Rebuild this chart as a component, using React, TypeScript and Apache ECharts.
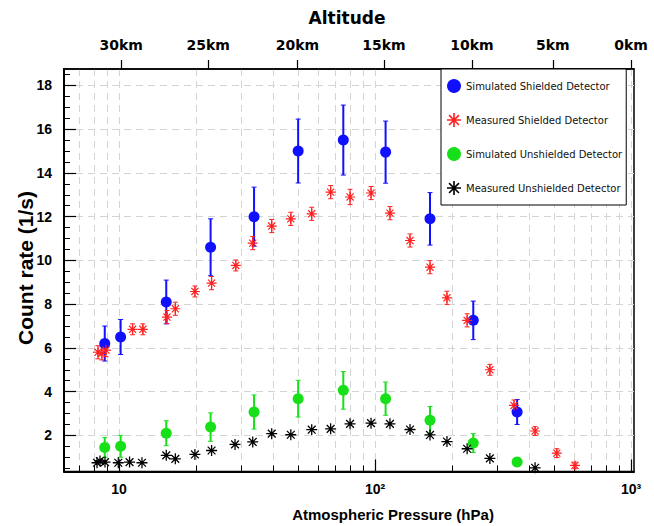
import React, { useEffect, useRef } from "react";
import * as echarts from "echarts";

// ---------- data ----------
const simPressure = [8.8, 10.15, 15.3, 22.8, 33.7, 50.1, 75.2, 110, 164, 242, 359];
const simShielded = [6.2, 6.5, 8.1, 10.6, 12.0, 15.0, 15.5, 14.95, 11.9, 7.26, 3.07];
const simShieldedErr = [0.8, 0.8, 1.0, 1.3, 1.35, 1.46, 1.6, 1.42, 1.2, 0.88, 0.57];
const simUnshielded = [1.45, 1.5, 2.1, 2.38, 3.07, 3.68, 4.06, 3.68, 2.69, 1.65, 0.78];
const simUnshieldedErr = [0.45, 0.5, 0.57, 0.65, 0.78, 0.84, 0.86, 0.76, 0.63, 0.43, 0.2];

const measShPressure = [8.28, 8.58, 8.9, 11.3, 12.4, 15.4, 16.6, 19.8, 23.0, 28.6, 33.3, 39.5, 46.9, 56.6, 67.1, 79.9, 96.5, 114.4, 137, 164, 191, 229, 281, 349, 422, 513, 604];
const measShielded = [5.8, 5.75, 5.9, 6.85, 6.85, 7.41, 7.79, 8.58, 8.96, 9.77, 10.79, 11.57, 11.9, 12.13, 13.12, 12.9, 13.08, 12.16, 10.91, 9.69, 8.29, 7.26, 5.0, 3.37, 2.2, 1.19, 0.63];
const measShieldedErr = [0.3, 0.3, 0.3, 0.25, 0.25, 0.3, 0.3, 0.25, 0.3, 0.25, 0.3, 0.3, 0.3, 0.3, 0.3, 0.35, 0.3, 0.3, 0.3, 0.3, 0.3, 0.3, 0.25, 0.25, 0.2, 0.2, 0.15];

const measUnPressure = [8.21, 8.43, 8.82, 9.94, 11.0, 12.3, 15.3, 16.6, 19.8, 23.0, 28.4, 33.3, 39.5, 46.9, 56.6, 67.1, 79.9, 96.5, 114.4, 137, 164, 191, 229, 281, 422];
const measUnshielded = [0.75, 0.83, 0.78, 0.75, 0.78, 0.75, 1.09, 0.93, 1.13, 1.31, 1.59, 1.7, 2.08, 2.03, 2.26, 2.3, 2.53, 2.56, 2.53, 2.27, 2.02, 1.72, 1.39, 0.95, 0.52];

const majorPressureTicks = [10, 100, 1000];
const minorPressureTicks = [7, 8, 9, 20, 30, 40, 50, 60, 70, 80, 90, 200, 300, 400, 500, 600, 700, 800, 900];
const altitudeLabels = ["30km", "25km", "20km", "15km", "10km", "5km", "0km"];
const altitudePressures = [10.2, 22.3, 49.8, 108.4, 239, 495, 1000];
const countTicks = [2, 4, 6, 8, 10, 12, 14, 16, 18];
const countMinorTicks = [0.5, 1, 1.5, 2.5, 3, 3.5, 4.5, 5, 5.5, 6.5, 7, 7.5, 8.5, 9, 9.5, 10.5, 11, 11.5, 12.5, 13, 13.5, 14.5, 15, 15.5, 16.5, 17, 17.5, 18.5];

const NAMES = [
  "Simulated Shielded Detector",
  "Measured Shielded Detector",
  "Simulated Unshielded Detector",
  "Measured Unshielded Detector",
];

// ---------- style helpers ----------
const X_MIN = 6.1;
const X_MAX = 1027;
const Y_MIN = 0.35;
const Y_MAX = 18.75;

function buildAsterisk(): string {
  const c = 12, L = 12, w = 1.4;
  let d = "";
  [0, 45, 90, 135].forEach((deg) => {
    const t = (deg * Math.PI) / 180;
    const dx = Math.cos(t), dy = Math.sin(t);
    const nx = -dy, ny = dx;
    const pts = [
      [c + L * dx + w * nx, c + L * dy + w * ny],
      [c + L * dx - w * nx, c + L * dy - w * ny],
      [c - L * dx - w * nx, c - L * dy - w * ny],
      [c - L * dx + w * nx, c - L * dy + w * ny],
    ];
    d += "M" + pts.map((p) => p[0].toFixed(2) + " " + p[1].toFixed(2)).join(" L") + " Z ";
  });
  return "path://" + d.trim();
}
const ASTERISK = buildAsterisk();

const BLUE = "#1010ff";
const RED = "#ff2020";
const GREEN = "#18e018";
const BLACK = "#000000";

function errorBars(name: string, xs: number[], ys: number[], es: number[], color: string, width: number, cap: number) {
  return {
    type: "custom",
    name,
    xAxisIndex: 0,
    yAxisIndex: 0,
    clip: true,
    z: 2,
    data: xs.map((x, i) => [x, ys[i], es[i]]),
    encode: { x: 0, y: 1 },
    renderItem: (params: any, api: any) => {
      const x = api.value(0), y = api.value(1), e = api.value(2);
      const top = api.coord([x, y + e]);
      const bot = api.coord([x, Math.max(y - e, Y_MIN)]);
      const children: any[] = [
        { type: "line", shape: { x1: top[0], y1: top[1], x2: bot[0], y2: bot[1] }, style: { stroke: color, lineWidth: width } },
        { type: "line", shape: { x1: top[0] - cap, y1: top[1], x2: top[0] + cap, y2: top[1] }, style: { stroke: color, lineWidth: 1 } },
        { type: "line", shape: { x1: bot[0] - cap, y1: bot[1], x2: bot[0] + cap, y2: bot[1] }, style: { stroke: color, lineWidth: 1 } },
      ];
      return { type: "group", children };
    },
  };
}

function scatter(name: string, xs: number[], ys: number[], color: string, symbol: string, size: number) {
  return {
    type: "scatter",
    name,
    xAxisIndex: 0,
    yAxisIndex: 0,
    symbol,
    symbolSize: size,
    z: 3,
    itemStyle: { color, opacity: 1 },
    data: xs.map((x, i) => [x, ys[i]]),
  };
}

const gridDash = { color: "#d4d4d4", width: 1, type: [7, 5] as any };

export default function App() {
  const ref = useRef<HTMLDivElement>(null);

  useEffect(() => {
    if (!ref.current) return;
    const chart = echarts.init(ref.current, undefined, { renderer: "svg" });
    const option: any = {
      animation: false,
      backgroundColor: "#ffffff",
      grid: {
        left: 64,
        right: 20,
        top: 69,
        bottom: 54.5,
        show: true,
        borderColor: "#000",
        borderWidth: 1.5,
        backgroundColor: "transparent",
      },
      legend: {
        orient: "vertical",
        left: 441,
        top: 69,
        backgroundColor: "#ffffff",
        borderColor: "#000",
        borderWidth: 1,
        borderRadius: 0,
        padding: [10, 4, 10, 6],
        itemGap: 20,
        itemWidth: 14,
        itemHeight: 14,
        textStyle: { fontSize: 10, fontFamily: "DejaVu Sans", color: "#111" },
        data: [
          { name: NAMES[0], icon: "circle" },
          { name: NAMES[1], icon: ASTERISK },
          { name: NAMES[2], icon: "circle" },
          { name: NAMES[3], icon: ASTERISK },
        ],
        z: 10,
      },
      xAxis: [
        {
          type: "log",
          logBase: 10,
          position: "bottom",
          min: X_MIN,
          max: X_MAX,
          axisLine: { show: true, onZero: false, lineStyle: { color: "#000", width: 2 } },
          axisTick: { show: true, inside: true, length: 12, customValues: majorPressureTicks, lineStyle: { color: "#000", width: 1.2 } },
          axisLabel: {
            show: true,
            customValues: majorPressureTicks,
            margin: 10,
            fontSize: 14,
            fontWeight: "bold",
            fontFamily: "Liberation Sans",
            color: "#000",
            formatter: (v: number) => (Math.abs(v - 10) < 0.5 ? "10" : Math.abs(v - 100) < 5 ? "10²" : "10³"),
          },
          splitLine: { show: true, lineStyle: gridDash },
        },
        {
          type: "log",
          logBase: 10,
          position: "bottom",
          min: X_MIN,
          max: X_MAX,
          axisLine: { show: false, onZero: false },
          axisTick: { show: true, inside: true, length: 6, customValues: minorPressureTicks, lineStyle: { color: "#000", width: 1 } },
          axisLabel: { show: false },
          splitLine: { show: true, lineStyle: gridDash },
        },
        {
          type: "log",
          logBase: 10,
          position: "top",
          min: X_MIN,
          max: X_MAX,
          axisLine: { show: true, onZero: false, lineStyle: { color: "#000", width: 1.5 } },
          axisTick: { show: true, inside: false, length: 9, customValues: altitudePressures, lineStyle: { color: "#000", width: 1.2 } },
          axisLabel: {
            show: true,
            customValues: altitudePressures,
            margin: 17,
            fontSize: 14,
            fontWeight: "bold",
            fontFamily: "DejaVu Sans",
            color: "#000",
            formatter: (v: number) => {
              let best = 0, bd = Infinity;
              altitudePressures.forEach((p, i) => {
                const d = Math.abs(Math.log(p) - Math.log(v));
                if (d < bd) { bd = d; best = i; }
              });
              return altitudeLabels[best];
            },
          },
          splitLine: { show: false },
        },
      ],
      yAxis: [
        {
          type: "value",
          position: "left",
          min: Y_MIN,
          max: Y_MAX,
          axisLine: { show: true, onZero: false, lineStyle: { color: "#000", width: 2 } },
          axisTick: { show: true, inside: true, length: 12, customValues: countTicks, lineStyle: { color: "#000", width: 1.2 } },
          axisLabel: {
            show: true,
            customValues: countTicks,
            margin: 12,
            fontSize: 14,
            fontWeight: "bold",
            fontFamily: "Liberation Sans",
            color: "#000",
          },
          splitLine: { show: true, lineStyle: gridDash },
        },
        {
          type: "value",
          position: "left",
          min: Y_MIN,
          max: Y_MAX,
          axisLine: { show: false, onZero: false },
          axisTick: { show: true, inside: true, length: 6, customValues: countMinorTicks, lineStyle: { color: "#000", width: 1 } },
          axisLabel: { show: false },
          splitLine: { show: false },
        },
      ],
      graphic: [
        {
          type: "text",
          x: 347,
          y: 18,
          style: { text: "Altitude", font: 'bold 17px "DejaVu Sans"', fill: "#000", align: "center", verticalAlign: "middle" },
        },
        {
          type: "text",
          x: 393,
          y: 514,
          style: { text: "Atmospheric Pressure (hPa)", font: 'bold 15px "Liberation Sans"', fill: "#000", align: "center", verticalAlign: "middle" },
        },
        {
          type: "text",
          x: 25,
          y: 268,
          rotation: Math.PI / 2,
          style: { text: "Count rate (1/s)", font: 'bold 21px "Liberation Sans"', fill: "#000", align: "center", verticalAlign: "middle" },
        },
      ],
      series: [
        scatter(NAMES[0], simPressure, simShielded, BLUE, "circle", 11),
        scatter(NAMES[1], measShPressure, measShielded, RED, ASTERISK, 10),
        scatter(NAMES[2], simPressure, simUnshielded, GREEN, "circle", 11),
        scatter(NAMES[3], measUnPressure, measUnshielded, BLACK, ASTERISK, 11),
        errorBars("errSimSh", simPressure, simShielded, simShieldedErr, BLUE, 2, 2.5),
        errorBars("errMeasSh", measShPressure, measShielded, measShieldedErr, RED, 1.2, 2.5),
        errorBars("errSimUn", simPressure, simUnshielded, simUnshieldedErr, GREEN, 2, 2.5),
      ],
    };
    chart.setOption(option);
    return () => chart.dispose();
  }, []);

  return <div ref={ref} style={{ width: 654, height: 526, position: "absolute", left: 0, top: 0, background: "#fff" }} />;
}
